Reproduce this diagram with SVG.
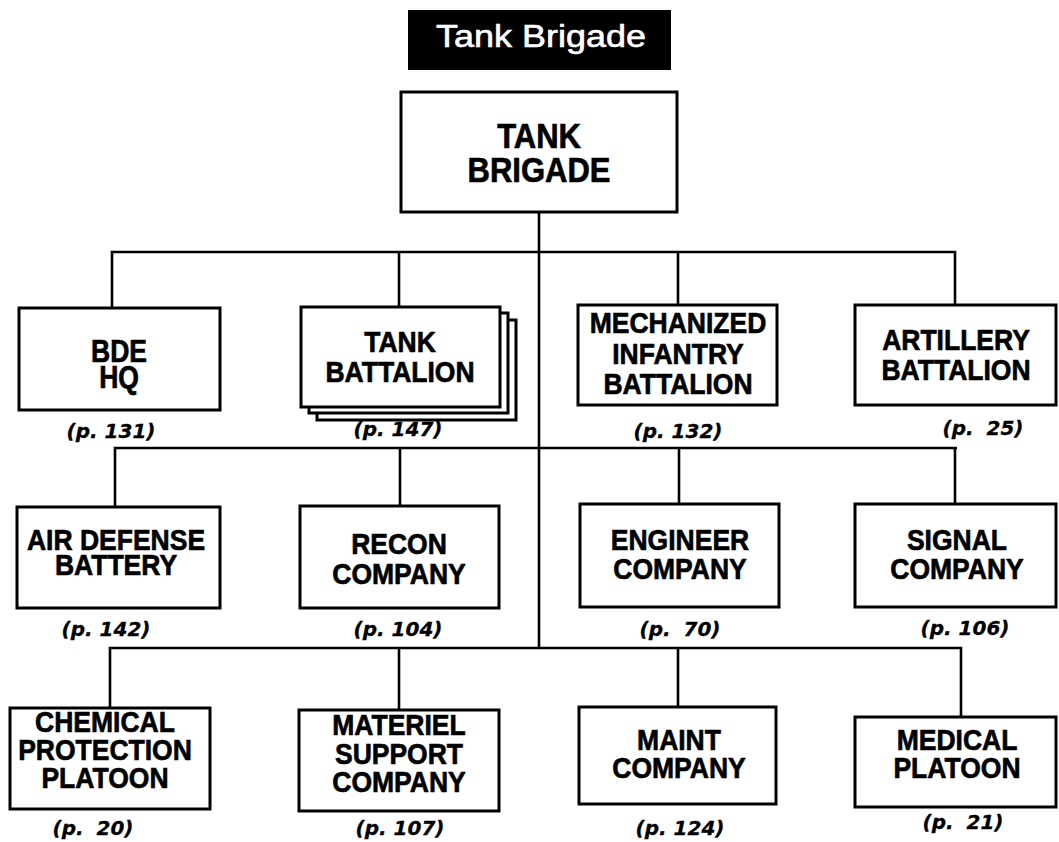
<svg xmlns="http://www.w3.org/2000/svg" width="1059" height="842" viewBox="0 0 1059 842">
<style>
.box{fill:#fff;stroke:#000;stroke-width:3}
.ln{fill:none;stroke:#000;stroke-width:2.6}
.t{font-family:"Liberation Sans",Arial,sans-serif;font-weight:bold;font-size:26.5px;text-anchor:middle;fill:#000;stroke:#000;stroke-width:0.6}
.tb{font-family:"Liberation Sans",Arial,sans-serif;font-weight:bold;font-size:31px;text-anchor:middle;fill:#000;stroke:#000;stroke-width:0.6}
.p{font-family:"DejaVu Sans",sans-serif;font-weight:bold;font-style:oblique;font-size:20px;text-anchor:middle;fill:#000;stroke:#000;stroke-width:0.3}
.title{font-family:"Liberation Sans",Arial,sans-serif;font-size:36px;text-anchor:middle;fill:#fff;stroke:#fff;stroke-width:0.7}
</style>
<rect width="1059" height="842" fill="#fff"/>
<g id="title">
<rect x="408" y="10" width="263" height="60" fill="#000"/>
<text class="title" transform="matrix(1,0,0,0.85,541,47)">Tank Brigade</text>
</g>
<g id="connectors">
<path class="ln" d="M539 212V648"/>
<path class="ln" d="M112 308V252H955V305M399 252V307M678 252V305"/>
<path class="ln" d="M115 507V448H957M955 448V504M400 448V506M679 448V504"/>
<path class="ln" d="M110 708V648H961V717M399 648V710M678 648V707"/>
</g>
<g id="tank-brigade">
<rect class="box" x="401" y="92" width="276" height="120"/>
<text class="tb" transform="matrix(1,0,0,1.15,539,148)">TANK</text>
<text class="tb" transform="matrix(1,0,0,1.15,539,182)">BRIGADE</text>
</g>
<g id="bde-hq">
<rect class="box" x="19" y="308" width="201" height="102"/>
<text class="t" transform="matrix(1,0,0,1.15,119,362)">BDE</text>
<text class="t" transform="matrix(1,0,0,1.15,119,388)">HQ</text>
<text class="p" x="111" y="438">(p. 131)</text>
</g>
<g id="tank-battalion">
<rect class="box" x="317" y="320" width="199" height="100"/>
<rect class="box" x="309" y="313" width="199" height="100"/>
<rect class="box" x="301" y="307" width="199" height="100"/>
<text class="t" transform="matrix(1,0,0,1.1,400,352)">TANK</text>
<text class="t" transform="matrix(1,0,0,1.1,400,382)">BATTALION</text>
<text class="p" x="398" y="436">(p. 147)</text>
</g>
<g id="mech-inf-battalion">
<rect class="box" x="578" y="305" width="199" height="100"/>
<text class="t" transform="matrix(1,0,0,1.08,678,333)">MECHANIZED</text>
<text class="t" transform="matrix(1,0,0,1.08,678,364)">INFANTRY</text>
<text class="t" transform="matrix(1,0,0,1.08,678,394)">BATTALION</text>
<text class="p" x="678" y="438">(p. 132)</text>
</g>
<g id="artillery-battalion">
<rect class="box" x="855" y="305" width="201" height="100"/>
<text class="t" transform="matrix(1,0,0,1.1,956,350)">ARTILLERY</text>
<text class="t" transform="matrix(1,0,0,1.1,956,380)">BATTALION</text>
<text class="p" x="983" y="435">(p. <tspan dx="6">25)</tspan></text>
</g>
<g id="air-defense-battery">
<rect class="box" x="17" y="507" width="203" height="101"/>
<text class="t" transform="matrix(1,0,0,1.08,116,550)">AIR DEFENSE</text>
<text class="t" transform="matrix(1,0,0,1.08,116,575)">BATTERY</text>
<text class="p" x="106" y="636">(p. 142)</text>
</g>
<g id="recon-company">
<rect class="box" x="300" y="506" width="199" height="102"/>
<text class="t" transform="matrix(1,0,0,1.08,399,554)">RECON</text>
<text class="t" transform="matrix(1,0,0,1.08,399,584)">COMPANY</text>
<text class="p" x="398" y="636">(p. 104)</text>
</g>
<g id="engineer-company">
<rect class="box" x="580" y="504" width="199" height="103"/>
<text class="t" transform="matrix(1,0,0,1.08,680,550)">ENGINEER</text>
<text class="t" transform="matrix(1,0,0,1.08,680,579)">COMPANY</text>
<text class="p" x="680" y="636">(p. <tspan dx="6">70)</tspan></text>
</g>
<g id="signal-company">
<rect class="box" x="855" y="504" width="201" height="103"/>
<text class="t" transform="matrix(1,0,0,1.08,957,550)">SIGNAL</text>
<text class="t" transform="matrix(1,0,0,1.08,957,579)">COMPANY</text>
<text class="p" x="965" y="635">(p. 106)</text>
</g>
<g id="chemical-protection-platoon">
<rect class="box" x="10" y="708" width="200" height="101"/>
<text class="t" transform="matrix(1,0,0,1.08,105,732)">CHEMICAL</text>
<text class="t" transform="matrix(1,0,0,1.08,105,760)">PROTECTION</text>
<text class="t" transform="matrix(1,0,0,1.08,105,788)">PLATOON</text>
<text class="p" x="93" y="835">(p. <tspan dx="6">20)</tspan></text>
</g>
<g id="materiel-support-company">
<rect class="box" x="299" y="710" width="200" height="101"/>
<text class="t" transform="matrix(1,0,0,1.08,399,735)">MATERIEL</text>
<text class="t" transform="matrix(1,0,0,1.08,399,764)">SUPPORT</text>
<text class="t" transform="matrix(1,0,0,1.08,399,792)">COMPANY</text>
<text class="p" x="400" y="835">(p. 107)</text>
</g>
<g id="maint-company">
<rect class="box" x="579" y="707" width="197" height="97"/>
<text class="t" transform="matrix(1,0,0,1.08,679,750)">MAINT</text>
<text class="t" transform="matrix(1,0,0,1.08,679,778)">COMPANY</text>
<text class="p" x="680" y="835">(p. 124)</text>
</g>
<g id="medical-platoon">
<rect class="box" x="855" y="717" width="201" height="90"/>
<text class="t" transform="matrix(1,0,0,1.08,957,750)">MEDICAL</text>
<text class="t" transform="matrix(1,0,0,1.08,957,778)">PLATOON</text>
<text class="p" x="963" y="829">(p. <tspan dx="6">21)</tspan></text>
</g>
</svg>
